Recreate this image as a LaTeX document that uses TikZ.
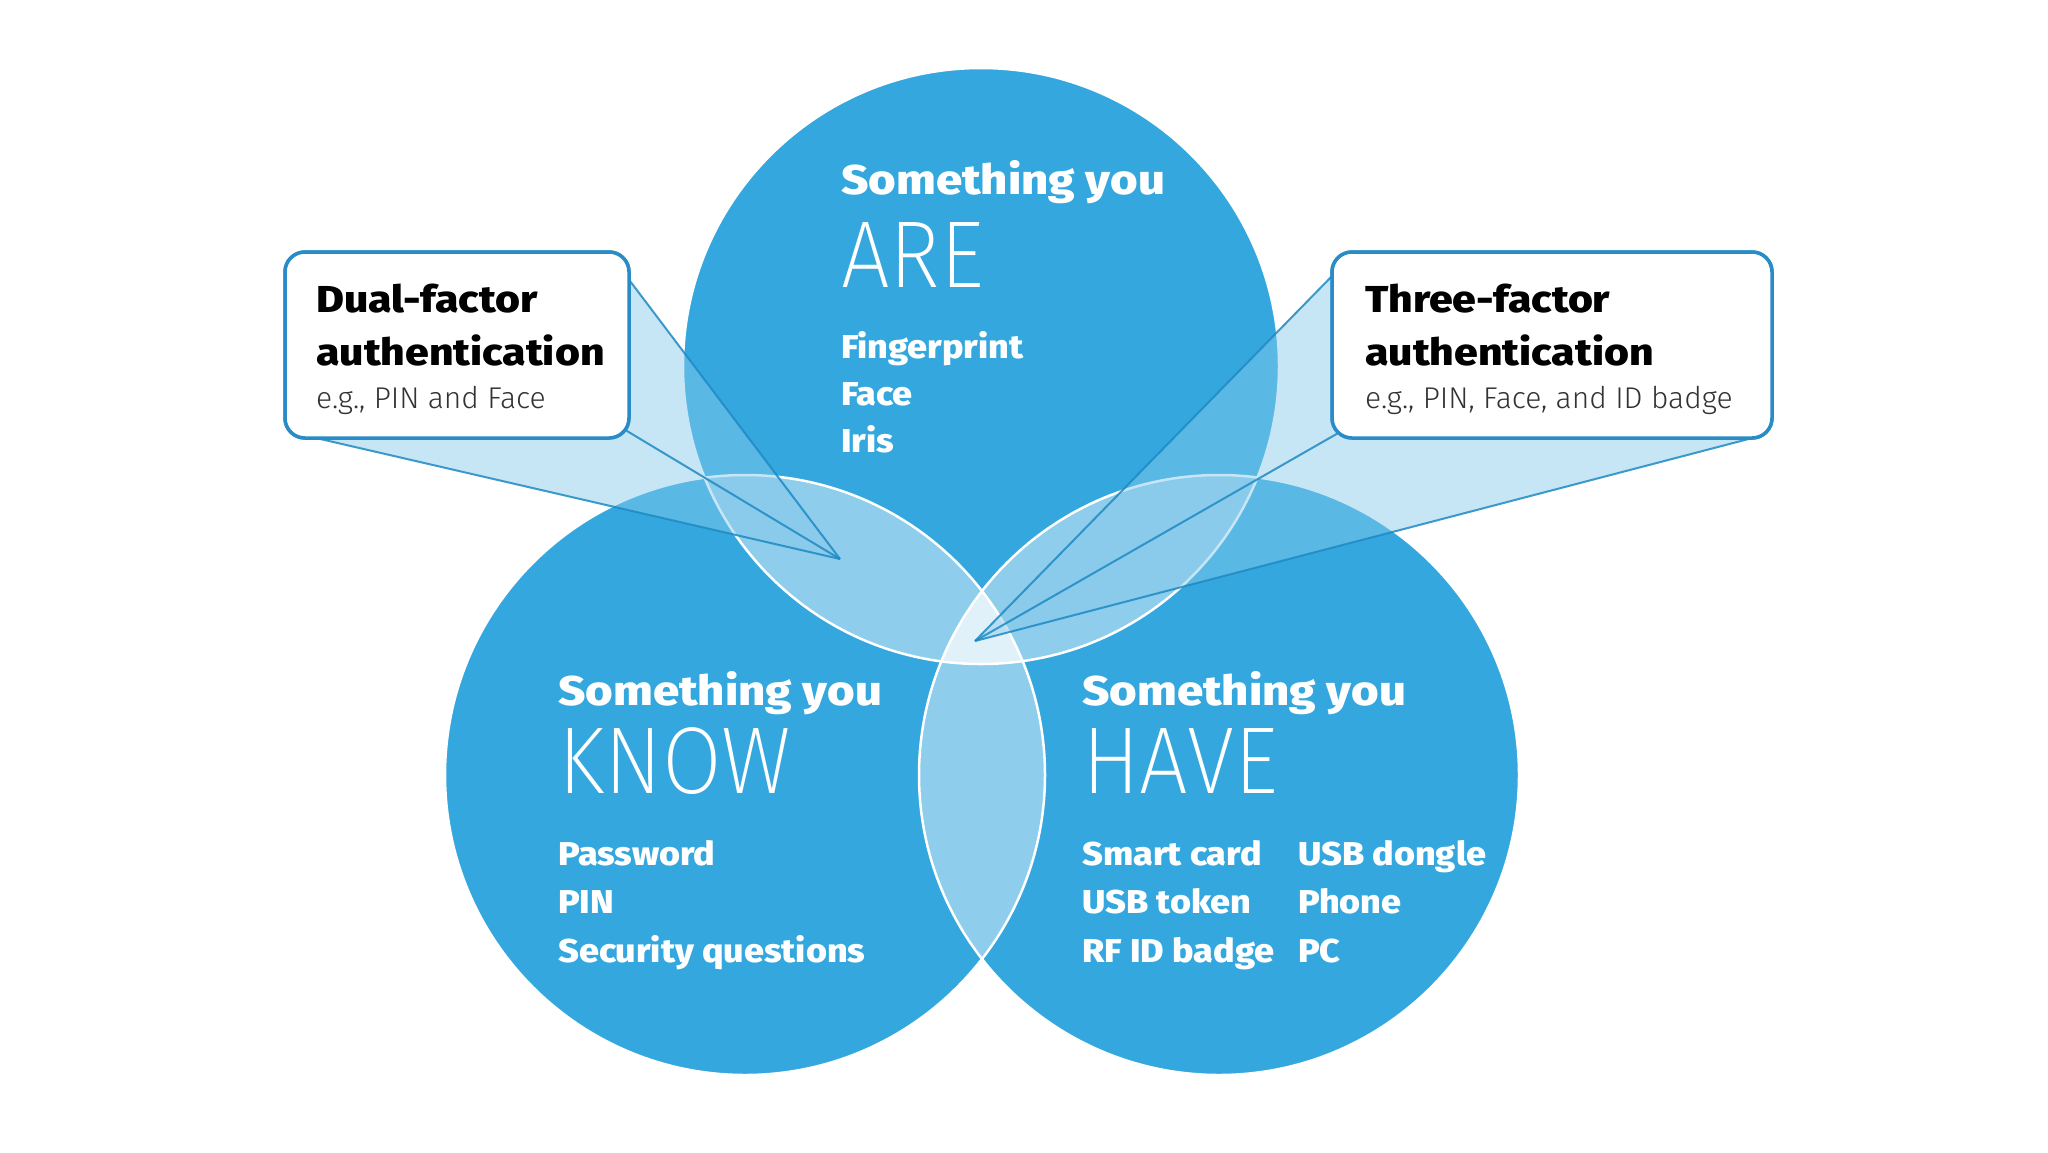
\documentclass[tikz,border=0pt]{standalone}
\usepackage{fontspec}
\setmainfont{Fira Sans}
\newfontfamily\thinfont[FakeStretch=0.91]{Fira Sans ExtraLight}
\newfontfamily\subfont{Fira Sans Light}
\newfontfamily\boldfont[FakeStretch=1.09]{Fira Sans ExtraBold}
\newfontfamily\headfont[FakeStretch=1.14]{Fira Sans ExtraBold}
\definecolor{cblue}{RGB}{52,168,222}
\definecolor{lens}{RGB}{142,205,236}
\definecolor{triple}{RGB}{224,241,249}
\definecolor{calfill}{RGB}{134,202,237}
\definecolor{calline}{RGB}{30,138,196}
\definecolor{boxline}{RGB}{41,140,199}
\definecolor{subgray}{RGB}{51,51,51}
\tikzset{
  head/.style={anchor=base west,inner sep=0pt,text=white,font=\headfont\fontsize{41.5}{48}\selectfont},
  big/.style={anchor=base west,inner sep=0pt,text=white,font=\thinfont\fontsize{95}{110}\selectfont},
  item/.style={anchor=base west,inner sep=0pt,text=white,font=\boldfont\fontsize{33}{40}\selectfont},
  boxhead/.style={anchor=base west,inner sep=0pt,text=black,font=\headfont\fontsize{37.5}{42}\selectfont},
  boxsub/.style={anchor=base west,inner sep=0pt,text=subgray,font=\subfont\fontsize{30}{34}\selectfont},
  callbox/.style={draw=boxline,line width=3.5pt,fill=white,rounded corners=20pt,inner sep=0pt},
  calwedge/.style={fill=calfill,fill opacity=0.47},
  calray/.style={draw=calline,line width=2pt,draw opacity=0.85},
  arc/.style={draw=white,line width=2.5pt}
}
\begin{document}
\begin{tikzpicture}[x=1pt,y=-1pt]
\useasboundingbox[fill=white] (0,0) rectangle (2048,1152);
% circles
\coordinate (cAre) at (981,366);
\coordinate (cKnow) at (745,775);
\coordinate (cHave) at (1219,775);
\fill[cblue] (cAre) circle[radius=298pt];
\fill[cblue] (cKnow) circle[radius=300pt];
\fill[cblue] (cHave) circle[radius=300pt];
% pairwise lenses
\begin{scope}
  \clip (cAre) circle[radius=298pt];
  \fill[lens] (cKnow) circle[radius=300pt];
  \fill[lens] (cHave) circle[radius=300pt];
\end{scope}
\begin{scope}
  \clip (cKnow) circle[radius=300pt];
  \fill[lens] (cHave) circle[radius=300pt];
\end{scope}
% triple
\begin{scope}
  \clip (cAre) circle[radius=298pt];
  \clip (cKnow) circle[radius=300pt];
  \fill[triple] (cHave) circle[radius=300pt];
\end{scope}
% white outlines
\draw[arc] (cAre) circle[radius=298pt];
\draw[arc] (cKnow) circle[radius=300pt];
\draw[arc] (cHave) circle[radius=300pt];
% callout boxes
\node[callbox,minimum width=344pt,minimum height=186pt] (dualbox) at (457,345) {};
\node[callbox,minimum width=440pt,minimum height=186pt] (threebox) at (1552,345) {};
% callout geometry
\coordinate (dualtip) at (840,559);
\coordinate (dualA) at (627,277);
\coordinate (dualB) at (622,428);
\coordinate (dualC) at (316,438);
\coordinate (threetip) at (975,641);
\coordinate (threeA) at (1334,274);
\coordinate (threeB) at (1340,432);
\coordinate (threeC) at (1760,436);
\fill[calwedge] (dualA) -- (dualtip) -- (dualC) -- (dualB) -- cycle;
\fill[calwedge] (threeA) -- (threetip) -- (threeC) -- (threeB) -- cycle;
\draw[calray] (dualA) -- (dualtip);
\draw[calray] (dualB) -- (dualtip);
\draw[calray] (dualC) -- (dualtip);
\draw[calray] (threeA) -- (threetip);
\draw[calray] (threeB) -- (threetip);
\draw[calray] (threeC) -- (threetip);
% redraw boxes on top
\node[callbox,minimum width=344pt,minimum height=186pt] (dualbox2) at (dualbox) {};
\node[callbox,minimum width=440pt,minimum height=186pt] (threebox2) at (threebox) {};
% box texts
\node[boxhead] (d1) at (316,312) {Dual-factor};
\node[boxhead] (d2) at (316,365) {authentication};
\node[boxsub]  (d3) at (316,408) {e.g., PIN and Face};
\node[boxhead] (t1) at (1365,312) {Three-factor};
\node[boxhead] (t2) at (1365,365) {authentication};
\node[boxsub]  (t3) at (1365,408) {e.g., PIN, Face, and ID badge};
% ARE
\node[head] (a1) at (841,194) {Something you};
\node[big]  (a2) at (841,287) {ARE};
\node[item] (a3) at (841,358) {Fingerprint};
\node[item] (a4) at (841,405) {Face};
\node[item] (a5) at (841,452) {Iris};
% KNOW
\node[head] (k1) at (558,705) {Something you};
\node[big]  (k2) at (558,793) {KNOW};
\node[item] (k3) at (558,865) {Password};
\node[item] (k4) at (558,913) {PIN};
\node[item] (k5) at (558,962) {Security questions};
% HAVE
\node[head] (h1) at (1082,705) {Something you};
\node[big]  (h2) at (1082,793) {HAVE};
\node[item] (h3) at (1082,865) {Smart card};
\node[item] (h4) at (1082,913) {USB token};
\node[item] (h5) at (1082,962) {RF ID badge};
\node[item] (h6) at (1298,865) {USB dongle};
\node[item] (h7) at (1298,913) {Phone};
\node[item] (h8) at (1298,962) {PC};
\end{tikzpicture}
\end{document}
